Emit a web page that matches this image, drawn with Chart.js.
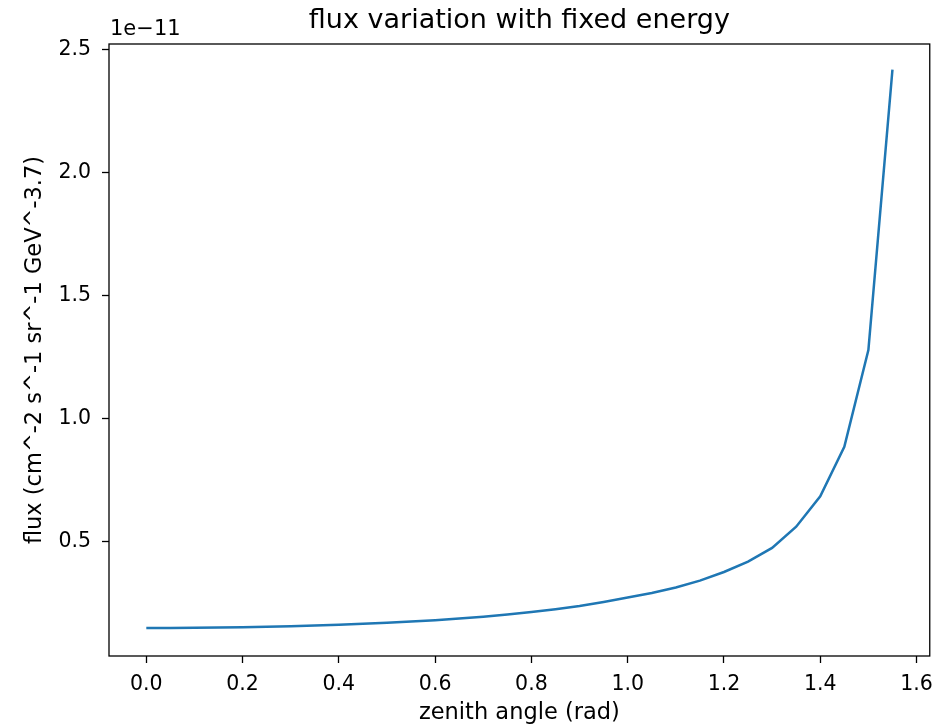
<!DOCTYPE html>
<html>
<head>
<meta charset="utf-8">
<title>flux variation with fixed energy</title>
<script src="https://cdn.jsdelivr.net/npm/chart.js@4/dist/chart.umd.min.js"></script>
<style>
  html, body { margin: 0; padding: 0; background: #fff; }
  canvas { display: block; }
</style>
</head>
<body>
<canvas id="fluxChart" width="942" height="728"></canvas>
<script>
// zenith angle in rad, step 0.05
const zenithAngle = [
  0.00, 0.05, 0.10, 0.15, 0.20, 0.25, 0.30, 0.35, 0.40, 0.45,
  0.50, 0.55, 0.60, 0.65, 0.70, 0.75, 0.80, 0.85, 0.90, 0.95,
  1.00, 1.05, 1.10, 1.15, 1.20, 1.25, 1.30, 1.35, 1.40, 1.45,
  1.50, 1.55
];
// flux in units of 1e-11 cm^-2 s^-1 sr^-1 GeV^-3.7
const fluxE11 = [
  0.150, 0.150, 0.151, 0.152, 0.153, 0.155, 0.158, 0.161, 0.164, 0.168,
  0.172, 0.177, 0.182, 0.189, 0.196, 0.205, 0.215, 0.227, 0.240, 0.256,
  0.274, 0.293, 0.315, 0.343, 0.378, 0.420, 0.476, 0.562, 0.686, 0.887,
  1.280, 2.420
];
const xTicks = [0.0, 0.2, 0.4, 0.6, 0.8, 1.0, 1.2, 1.4, 1.6];
const yTicks = [0.5, 1.0, 1.5, 2.0, 2.5];

const FONT = 'DejaVu Sans';
const TITLE = 'flux variation with fixed energy';

// kotak sumbu ala matplotlib, judul di tengah area plot, teks offset "1e-11"
const framePlugin = {
  id: 'frame',
  afterDraw(chart) {
    const a = chart.chartArea;
    const ctx = chart.ctx;
    ctx.save();
    ctx.strokeStyle = '#000';
    ctx.lineWidth = 1.3;
    ctx.strokeRect(a.left, a.top, a.right - a.left, a.bottom - a.top);
    ctx.fillStyle = '#000';
    ctx.font = '21px "' + FONT + '"';
    ctx.textAlign = 'left';
    ctx.textBaseline = 'alphabetic';
    ctx.fillText('1e\u221211', a.left + 1, a.top - 9);
    ctx.font = '27px "' + FONT + '"';
    ctx.textAlign = 'center';
    ctx.fillText(TITLE, (a.left + a.right) / 2, a.top - 16);
    ctx.restore();
  }
};

const points = zenithAngle.map((x, i) => ({ x: x, y: fluxE11[i] }));

new Chart(document.getElementById('fluxChart').getContext('2d'), {
  type: 'line',
  data: {
    datasets: [{
      data: points,
      borderColor: '#1f77b4',
      borderWidth: 2.5,
      pointRadius: 0,
      tension: 0,
      fill: false
    }]
  },
  options: {
    responsive: false,
    animation: false,
    layout: { padding: { top: 44, right: 11, bottom: 0, left: 0 } },
    plugins: {
      legend: { display: false },
      tooltip: { enabled: false },
      title: { display: false }
    },
    scales: {
      x: {
        type: 'linear',
        min: -0.0775,
        max: 1.6275,
        afterBuildTicks: s => { s.ticks = xTicks.map(v => ({ value: v })); },
        afterFit: s => { s.height = 72; },
        ticks: {
          color: '#000',
          font: { family: FONT, size: 20.5 },
          padding: 9,
          maxRotation: 0,
          callback: v => v.toFixed(1)
        },
        grid: { drawOnChartArea: false, drawTicks: true, tickLength: 7, tickWidth: 1.3, tickColor: '#000' },
        border: { display: false },
        title: {
          display: true,
          text: 'zenith angle (rad)',
          color: '#000',
          font: { family: FONT, size: 22.5 },
          padding: { top: 0, bottom: 1 }
        }
      },
      y: {
        type: 'linear',
        min: 0.0366,
        max: 2.524,
        afterBuildTicks: s => { s.ticks = yTicks.map(v => ({ value: v })); },
        afterFit: s => { s.width = 109; },
        ticks: {
          color: '#000',
          font: { family: FONT, size: 20.5 },
          padding: 11,
          callback: v => v.toFixed(1)
        },
        grid: { drawOnChartArea: false, drawTicks: true, tickLength: 7, tickWidth: 1.3, tickColor: '#000' },
        border: { display: false },
        title: {
          display: true,
          text: 'flux (cm^-2 s^-1 sr^-1 GeV^-3.7)',
          color: '#000',
          font: { family: FONT, size: 22.5 },
          padding: { top: 22, bottom: 0 }
        }
      }
    }
  },
  plugins: [framePlugin]
});
</script>
</body>
</html>
